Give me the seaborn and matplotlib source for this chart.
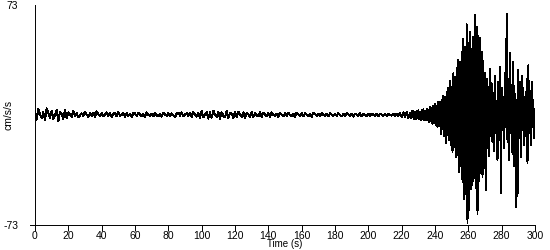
import numpy as np
import pandas as pd
import matplotlib
matplotlib.use("Agg")
import matplotlib.pyplot as plt
import seaborn as sns

# ---- data ----
quiet_step = 1.0     # seconds between samples, 0-224 s
strong_step = 0.5    # seconds between samples, 225-299.5 s
strong_start = 225.0

quiet_vals = [
    2.5, -3.1, 3.8, 0.6, -2.2, 1.9, -3.6, 4.4, 1.2, -1.8, 2.9, -2.7, -0.4, 3.2, -4.1, 2.0, 0.8, -2.5, 3.6, -1.9,
    1.8, 0.2, -1.2, 2.6, -0.9, 1.5, -1.6, -0.3, 1.1, -0.8, 2.2, 0.4, -1.4, 1.3, -0.7, 1.6, -1.1, 2.4, 0.3, -0.6,
    1.4, -1.0, 0.2, 1.7, -0.5, 1.1, -1.2, 0.8, 1.4, -0.9, 1.9, -0.7, 0.1, 1.2, -1.1, 1.5, -0.6, 0.9, -1.4, 1.3,
    1.1, -0.7, 1.4, 0.3, -1.0, 0.8, -1.2, 1.7, 0.2, -0.6, 1.0, -0.9, 1.3, -0.2, -0.8, 0.9, -1.1, 1.6, 0.4, -0.5,
    1.5, -0.9, 1.1, -0.3, -1.3, 0.9, 1.6, -0.6, 1.8, -1.0, 0.4, 1.2, -0.8, 1.6, -1.4, 2.1, 0.3, -1.1, 1.4, -1.7,
    2.6, -1.5, 0.6, 2.0, -2.4, 1.7, -1.8, 2.9, 0.4, -1.3, 2.2, -2.6, 1.8, -0.5, -1.6, 2.5, -2.1, 1.6, 0.7, -1.9,
    1.9, -1.6, 2.3, 0.2, -1.2, 1.7, -2.0, 1.5, 0.5, -1.1, 2.1, -1.4, 1.3, -0.2, -1.0, 1.8, -1.2, 1.4, 0.3, -0.9,
    1.3, -1.1, 1.7, 0.2, -0.7, 1.0, -1.2, 1.4, 0.4, -0.9, 1.1, -0.6, 1.5, -0.1, -1.0, 0.9, -1.3, 1.6, 0.5, -0.8,
    1.4, -0.8, 1.1, 0.3, -1.0, 0.7, -1.2, 1.5, 0.6, -0.6, 1.0, -0.9, 1.3, 0.2, -0.7, 0.8, -1.0, 1.2, 0.4, -0.5,
    0.9, -0.7, 1.3, 0.1, -1.0, 0.8, -0.6, 1.4, 0.5, -0.8, 1.0, -1.1, 0.7, 0.2, -0.6, 1.2, -0.9, 0.8, 0.3, -0.7,
    0.7, -0.6, 1.0, 0.2, -0.5, 0.8, -0.7, 0.6, 0.3, -0.5, 0.9, -0.6, 0.7, 0.1, -0.4, 0.8, -0.6, 0.9, -0.7, 1.2,
    -1.5, 1.8, -1.3, 2.2, -1.9,
]

strong_vals = [
    1.5, -2.0, 2.4, -1.6, 2.8, -2.5, 1.9, -3.0, 2.6, -2.2, 3.1, -2.7, 2.0, -3.4, 3.3, -2.4, 3.8, -3.1, 2.9, -3.6,
    4.2, -3.3, 3.6, -4.5, 5.1, -3.9, 4.7, -6.0, 6.3, -5.2, 7.4, -6.8, 6.1, -8.2, 9.0, -7.5, 8.4, -12.5, 10.2, -9.6,
    12.5, -14.0, 11.8, -18.6, 15.3, -13.2, 17.9, -16.5, 22.6, -19.8, 18.4, -24.5, 27.6, -21.3, 25.0, -28.2, 31.5, -26.4, 36.8, -38.0,
    35.2, -33.6, 41.8, -44.5, 50.5, -56.0, 45.3, -52.4, 60.2, -71.5, 47.6, -63.0, 55.4, -49.0, 44.0, -46.5, 52.0, -42.0, 66.5, -48.3,
    58.6, -66.0, 52.2, -44.0, 51.0, -38.5, 42.0, -41.0, 36.0, -35.5, 28.0, -50.0, 24.0, -22.0, 18.5, -27.0, 30.5, -14.0, 21.0, -18.0,
    14.5, -24.0, 26.0, -12.0, 9.5, -30.0, 22.0, -16.0, 32.0, -52.0, 18.0, -10.0, 12.0, -22.0, 28.0, -8.0, 67.0, -18.0, 24.0, -30.0,
    41.0, -12.0, 20.0, -26.0, 35.0, -34.0, 14.0, -61.0, 10.0, -54.0, 30.0, -15.0, 22.0, -28.0, 26.0, -10.0, 18.0, -20.0, 12.0, -14.0,
    24.0, -32.0, 33.0, -12.0, 16.0, -20.0, 22.0, -8.0, 10.0, -15.0,
]

x_ticks = list(range(0, 301, 20))
y_limit = 73
x_label = "Time (s)"
y_label = "cm/s/s"

# ---- build table ----
t_quiet = np.arange(len(quiet_vals)) * quiet_step
t_strong = strong_start + np.arange(len(strong_vals)) * strong_step
df = pd.DataFrame({
    "t": np.concatenate([t_quiet, t_strong]),
    "acc": np.array(quiet_vals + strong_vals, dtype=float),
})

sns.set_theme(style="white")
plt.rcParams["font.family"] = ["Liberation Sans", "DejaVu Sans"]

fig = plt.figure(figsize=(5.5, 2.5), dpi=100)
ax = fig.add_axes([35 / 550, 25 / 250, 500 / 550, 220 / 250])

sns.lineplot(data=df, x="t", y="acc", ax=ax, color="black", linewidth=0.7,
             estimator=None, sort=False)
for ln in ax.lines:
    ln.set_antialiased(False)

ax.set_xlim(0, 300)
ax.set_ylim(-y_limit, y_limit)
ax.set_xticks(x_ticks)
ax.set_xticklabels([str(v) for v in x_ticks], fontsize=7.5)
ax.set_yticks([-y_limit, y_limit])
ax.set_yticklabels([str(-y_limit), str(y_limit)], fontsize=7.5)

for s in ["top", "right"]:
    ax.spines[s].set_visible(False)
for s in ["left", "bottom"]:
    ax.spines[s].set_color("black")
    ax.spines[s].set_linewidth(0.7)
ax.spines["bottom"].set_bounds(-3, 300)

ax.tick_params(axis="x", direction="out", length=4, width=0.7, color="black",
               pad=0, bottom=True, labelcolor="black")
ax.tick_params(axis="y", length=0, pad=12, left=True, labelcolor="black")

ax.set_xlabel(x_label, fontsize=7, color="black")
ax.xaxis.set_label_coords(0.5, -0.1)
ax.xaxis.label.set_va("baseline")
ax.set_ylabel(y_label, fontsize=7.5, color="black")
ax.yaxis.set_label_coords(-0.042, 0.5)

fig.savefig("out.png", dpi=100)
